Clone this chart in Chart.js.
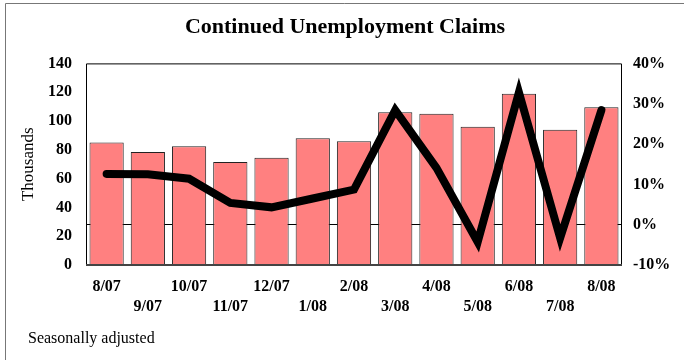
<!DOCTYPE html>
<html>
<head>
<meta charset="utf-8">
<script src="https://cdn.jsdelivr.net/npm/chart.js@4"></script>
<style>
    body { margin: 0; background: #ffffff; }
    #wrap { position: relative; width: 684px; height: 360px; }
    #note {
        position: absolute; left: 28px; top: 329px;
        font-family: "Liberation Serif", "Times New Roman", serif;
        font-size: 16px; color: #000;
    }
</style>
</head>
<body>
<div id="wrap">
    <canvas id="myChart" width="684" height="360"></canvas>
    <div id="note">Seasonally adjusted</div>
</div>
<script>
const months = ['8/07', '9/07', '10/07', '11/07', '12/07', '1/08', '2/08', '3/08', '4/08', '5/08', '6/08', '7/08', '8/08'];
const claims = [85, 78.5, 82.5, 71.5, 74.5, 88, 86, 106, 105, 96, 119, 94, 109.5];
const yoyChange = [12.6, 12.5, 11.4, 5.4, 4.3, 6.5, 8.7, 28.4, 14.1, -4.3, 32.8, -3.3, 28.4];
const leftTicks = [0, 20, 40, 60, 80, 100, 120, 140];
const rightTicks = [-10, 0, 10, 20, 30, 40];

const serif = '"Liberation Serif", "Times New Roman", serif';

// frame round the plot area and the picture
const framePlugin = {
    id: 'frame',
    afterDatasetsDraw(chart) {
        const { ctx, chartArea: a } = chart;
        ctx.save();
        ctx.strokeStyle = '#000';
        ctx.lineWidth = 1;
        ctx.beginPath();
        ctx.moveTo(a.left + 0.5, a.bottom);
        ctx.lineTo(a.left + 0.5, a.top + 0.5);
        ctx.lineTo(a.right - 0.5, a.top + 0.5);
        ctx.lineTo(a.right - 0.5, a.bottom);
        ctx.stroke();
        ctx.strokeStyle = '#444';
        ctx.lineWidth = 2;
        ctx.beginPath();
        ctx.moveTo(a.left, a.bottom);
        ctx.lineTo(a.right, a.bottom);
        ctx.stroke();
        ctx.restore();
    },
    beforeDraw(chart) {
        const ctx = chart.ctx;
        ctx.save();
        ctx.strokeStyle = '#777';
        ctx.lineWidth = 1;
        ctx.beginPath();
        ctx.moveTo(5.5, 360);
        ctx.lineTo(5.5, 3.5);
        ctx.lineTo(684, 3.5);
        ctx.stroke();
        ctx.restore();
    }
};

function renderChart() {
    const ctx = document.getElementById('myChart');

    new Chart(ctx, {
        type: 'bar',
        data: {
            labels: months,
            datasets: [{
                type: 'line',
                data: yoyChange,
                yAxisID: 'y2',
                borderColor: '#000',
                borderWidth: 8,
                borderCapStyle: 'round',
                borderJoinStyle: 'miter',
                pointRadius: 0,
                tension: 0,
                order: 0
            }, {
                data: claims,
                yAxisID: 'y',
                backgroundColor: '#ff8080',
                borderColor: '#222',
                borderWidth: 1,
                barPercentage: 0.83,
                categoryPercentage: 1,
                order: 1
            }]
        },
        options: {
            responsive: false,
            animation: false,
            layout: { padding: { left: 6, right: 0, top: 0, bottom: 31 } },
            plugins: {
                legend: { display: false },
                tooltip: { enabled: false },
                title: {
                    display: true,
                    text: 'Continued Unemployment Claims',
                    color: '#000',
                    font: { family: serif, size: 22, weight: 'bold' },
                    padding: { top: 14, bottom: 23 }
                }
            },
            scales: {
                x: {
                    offset: true,
                    grid: { display: false, drawTicks: false },
                    border: { display: false },
                    ticks: {
                        color: '#000',
                        padding: 12,
                        maxRotation: 0,
                        autoSkip: false,
                        font: { family: serif, size: 16, weight: 'bold', lineHeight: 1.25 },
                        callback: (v, i) => i % 2 ? ['', months[i]] : months[i]
                    }
                },
                y: {
                    min: 0,
                    max: 140,
                    afterBuildTicks: s => { s.ticks = leftTicks.map(v => ({ value: v })); },
                    afterFit: s => { s.width = 80; },
                    grid: { display: false, drawTicks: false },
                    border: { display: false },
                    title: {
                        display: true,
                        text: 'Thousands',
                        color: '#000',
                        font: { family: serif, size: 17 },
                        padding: { top: 12, bottom: 0 }
                    },
                    ticks: {
                        color: '#000',
                        padding: 14,
                        font: { family: serif, size: 16, weight: 'bold' }
                    }
                },
                y2: {
                    position: 'right',
                    min: -10,
                    max: 40,
                    afterBuildTicks: s => { s.ticks = rightTicks.map(v => ({ value: v })); },
                    afterFit: s => { s.width = 62; },
                    border: { display: false },
                    grid: {
                        drawTicks: false,
                        color: c => c.tick && c.tick.value === 0 ? '#000' : 'rgba(0,0,0,0)',
                        lineWidth: 1
                    },
                    ticks: {
                        color: '#000',
                        padding: 11,
                        font: { family: serif, size: 16, weight: 'bold' },
                        callback: v => v + '%'
                    }
                }
            }
        },
        plugins: [framePlugin]
    });
}

renderChart();
</script>
</body>
</html>
